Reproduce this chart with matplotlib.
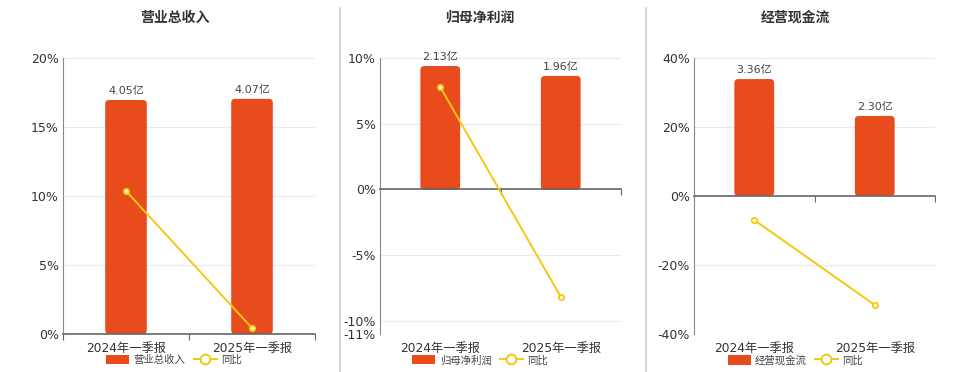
import numpy as np
import matplotlib.pyplot as plt
from matplotlib.patches import FancyBboxPatch
from matplotlib.lines import Line2D

plt.rcParams['font.family'] = ['DejaVu Sans', 'Noto Sans CJK SC']

periods = ['2024年一季报', '2025年一季报']
titles = ['营业总收入', '归母净利润', '经营现金流']
amounts = [[4.05, 4.07], [2.13, 1.96], [3.36, 2.30]]
amount_labels = [['4.05亿', '4.07亿'], ['2.13亿', '1.96亿'], ['3.36亿', '2.30亿']]
yoy = [[10.36, 0.43], [7.79, -8.17], [-6.96, -31.6]]
pct_ticks = [[0, 5, 10, 15, 20], [-11, -10, -5, 0, 5, 10], [-40, -20, 0, 20, 40]]

# layout (pixels)
W, H = 960, 372
boxes = [(63, 315), (380, 621), (694, 935)]
top_px, bot_px = 58, 334
bar_lims = [(0, 4.777), (-2.474, 2.268), (-3.965, 3.965)]
centers = [175, 480, 795]
leg_x = [0.44, 0.415, 0.42]

bar_col = '#E84B1C'
line_col = '#F5C810'
grid_col = '#E6EAF2'

fig = plt.figure(figsize=(W / 100, H / 100), dpi=100)

for i in range(3):
    l, r = boxes[i]
    ax = fig.add_axes([l / W, 1 - bot_px / H, (r - l) / W, (bot_px - top_px) / H])
    ax2 = ax.twinx()
    ax.set_zorder(ax2.get_zorder() + 1)
    ax.patch.set_visible(False)

    x = np.arange(2)
    ax.set_xlim(-0.5, 1.5)
    ax2.set_xlim(-0.5, 1.5)
    lo, hi = min(pct_ticks[i]), max(pct_ticks[i])
    ax.set_ylim(lo, hi)
    ax2.set_ylim(*bar_lims[i])
    ax2.set_autoscale_on(False)

    # grid behind the bars
    for t in pct_ticks[i]:
        if t != 0:
            ax2.add_line(Line2D([0, 1], [t, t], transform=ax.get_yaxis_transform(),
                                color=grid_col, lw=0.8, zorder=0))

    # bars with rounded corners
    bars = ax2.bar(x, amounts[i], width=0.33, color=bar_col)
    xpp = 2 / (r - l)
    ypp = (bar_lims[i][1] - bar_lims[i][0]) / (bot_px - top_px)
    for b in bars:
        b.set_visible(False)
        p = FancyBboxPatch((b.get_x(), 0), b.get_width(), b.get_height(),
                           boxstyle='round,pad=0,rounding_size=%f' % (4 * xpp),
                           mutation_aspect=ypp / xpp, fc=bar_col, ec='none', zorder=2)
        ax2.add_patch(p)
    for j in range(2):
        ax2.annotate(amount_labels[i][j], (x[j], amounts[i][j]), xytext=(0, 3),
                     textcoords='offset points', ha='center', va='bottom',
                     fontsize=8, color='#444444')
    ax2.set_yticks([])
    for s in ax2.spines.values():
        s.set_visible(False)

    # yoy line
    ax.plot(x, yoy[i], color=line_col, lw=1.4, marker='o', ms=4,
            mfc='#FFF7C8', mec=line_col, mew=1.2, zorder=5)

    ax.set_yticks(pct_ticks[i])
    ax.set_yticklabels(['%d%%' % t for t in pct_ticks[i]])
    ax.tick_params(axis='y', length=0, labelsize=9, labelcolor='#333333', pad=3)

    ax.spines['top'].set_visible(False)
    ax.spines['right'].set_visible(False)
    ax.spines['left'].set_color('#8a8a8a')
    ax.spines['bottom'].set_position(('data', 0))
    ax.spines['bottom'].set_color('#666666')
    ax.spines['bottom'].set_linewidth(1.2)

    ax.set_xticks([-0.5, 0.5, 1.5])
    ax.set_xticklabels([])
    ax.tick_params(axis='x', length=4, color='#666666', direction='out')
    for j in range(2):
        ax.text(x[j], -0.03, periods[j], transform=ax.get_xaxis_transform(),
                ha='center', va='top', fontsize=8.8, color='#333333')

    handles = [FancyBboxPatch((0, 0), 1, 1, boxstyle='round,pad=0.1', fc=bar_col, ec='none'),
               Line2D([], [], color=line_col, lw=1.4, marker='o', ms=7,
                      mfc='white', mec=line_col, mew=1.4)]
    ax.legend(handles, [titles[i], '同比'], loc='center', ncol=2,
              bbox_to_anchor=(leg_x[i], -0.095), frameon=False, fontsize=7.5,
              handlelength=2.2, handleheight=1.0, handletextpad=0.4,
              columnspacing=0.8, labelcolor='#444444')

    fig.text(centers[i] / W, 1 - 18 / H, titles[i], ha='center', va='center',
             fontsize=10, fontweight='bold', color='#333333')

# separators
for xs in [340, 646]:
    fig.add_artist(Line2D([xs / W, xs / W], [0, 1 - 8 / H], color='#D0D0D0', lw=1.2))

fig.savefig('out.png', dpi=100)
